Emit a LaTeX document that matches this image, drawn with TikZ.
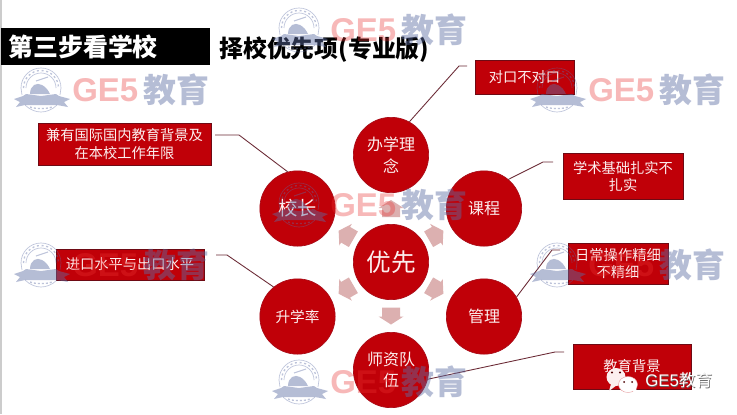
\documentclass[tikz,border=0pt]{standalone}
\usepackage{fontspec}
\setmainfont{Noto Sans CJK SC}
\newfontfamily\latinf{Liberation Sans}
\definecolor{cred}{HTML}{C00008}
\definecolor{cedge}{HTML}{A80C18}
\definecolor{bedge}{HTML}{6E0A14}
\definecolor{arrowc}{HTML}{DCB0B0}
\definecolor{linec}{HTML}{6B2A35}
\definecolor{softw}{HTML}{FCEFEF}
\definecolor{wmblue}{HTML}{5D6DA4}
\definecolor{wmred}{HTML}{EA2F2F}
\tikzset{
  px/.style={x=0.75pt,y=-0.75pt},
  disc/.style={circle,fill=cred,draw=cedge,line width=0.5pt,minimum size=56.5pt,inner sep=0pt,align=center,text=softw,font=\fontsize{12}{16}\selectfont},
  tagbox/.style={rectangle,fill=cred,draw=bedge,line width=0.6pt,inner sep=0pt,align=center,text=softw,font=\fontsize{10.7}{12.9}\selectfont},
  conn/.style={draw=linec,line width=0.65pt},
  flowarrow/.style={fill=arrowc,draw=none},
  wmtxt/.style={anchor=west,inner sep=0pt,font=\bfseries\fontsize{24.7}{25}\selectfont},
}
\newcommand{\boxat}[6]{% name, x0,y0,x1,y1, text
  \node[tagbox,minimum width={(#4-#2)*0.75pt},minimum height={(#5-#3)*0.75pt}] (#1) at ({(#2+#4)/2},{(#3+#5)/2}) {#6};}
\newcommand{\flowarr}[3]{%
  \fill[flowarrow,shift={(#1,#2)},rotate=#3] (-8.5,-9) -- (0.5,-9) -- (0.5,-12.5) -- (8.5,0) -- (0.5,12.5) -- (0.5,9) -- (-8.5,9) -- cycle;}
\newcommand{\wmark}[3]{% id, x of G, y centre
  \begin{scope}[shift={(#2,#3)}]
    \node[wmtxt,text=wmred,text opacity=0.34] (wmg#1) at (0,0) {\latinf GE5};
    \node[wmtxt,text=wmblue,text opacity=0.45] (wmj#1) at (71,0) {教育};
    \begin{scope}[draw=wmblue,fill=wmblue,draw opacity=0.4,fill opacity=0.45,line width=0.5pt]
      \draw (-51,-2) arc[start angle=180,end angle=360,radius=20];
      \draw (-46,-2) arc[start angle=180,end angle=360,radius=15];
      \draw[dash pattern=on 1.5pt off 2pt,line width=1pt] (-48.5,-2) arc[start angle=180,end angle=360,radius=17.5];
      \draw (-51,-2) -- (-50,5) (-11,-2) -- (-12,5);
      % hill and tree
      \fill (-42,4) .. controls (-42,-5) and (-35,-8) .. (-30,-5) .. controls (-26,-3) and (-24,0) .. (-22,4) -- cycle;
      \draw[line width=0.8pt] (-36,-9) -- (-24,-13);
      % ribbon
      \fill (-58,9) -- (-49,6) -- (-46,4) -- (-31,6) -- (-16,4) -- (-13,6) -- (-2,9) -- (-8,12) -- (-4,17) -- (-15,15) -- (-31,15) -- (-47,15) -- (-56,17) -- (-52,12) -- cycle;
      % lower arcs
      \draw (-47,15) .. controls (-42,20) and (-36,22) .. (-31,22) .. controls (-26,22) and (-20,20) .. (-15,15);
      \draw[dash pattern=on 1.5pt off 1.5pt,line width=1pt] (-42,17) .. controls (-38,19) and (-24,19) .. (-20,17);
    \end{scope}
  \end{scope}}
\begin{document}
\begin{tikzpicture}[px]
\useasboundingbox (0,0) rectangle (737,414);
\fill[white] (0,0) rectangle (737,414);
\fill[black!20] (0,0) rectangle (1.5,414);

% header
\node[rectangle,fill=black,minimum width=156.75pt,minimum height=27.75pt,inner sep=0pt] (headbar) at (105.5,46.5) {};
\node[anchor=west,inner sep=0pt,text=white,font=\bfseries\fontsize{18.7}{20}\selectfont] (headtxt) at (8,46.5) {第三步看学校};
\node[anchor=west,inner sep=0pt,text=black,font=\bfseries\fontsize{17.9}{20}\selectfont] (subtitle) at (219,49.5) {择校优先项(专业版)};

% connector ends
\coordinate (e1a) at (459,66);  \coordinate (e1b) at (467,66);
\coordinate (e2a) at (239,135); \coordinate (e2b) at (215,135);
\coordinate (e3a) at (543,162); \coordinate (e3b) at (553,162);
\coordinate (e4a) at (227,255); \coordinate (e4b) at (216,255);
\coordinate (e5a) at (552,250); \coordinate (e5b) at (560,250);
\coordinate (e6a) at (555,352); \coordinate (e6b) at (564,352);

% arrows
\flowarr{391}{208.5}{90}
\flowarr{391}{316}{-90}
\flowarr{346}{235}{150}
\flowarr{436}{235}{30}
\flowarr{346}{289.5}{210}
\flowarr{436}{289.5}{-30}

% circles
\node[disc] (ban) at (391,155) {办学理\\念};
\node[disc] (ke) at (484,208.5) {课程};
\node[disc,font=\fontsize{14.5}{17}\selectfont] (xiao) at (297.5,208.5) {校长};
\node[disc,font=\fontsize{11}{15}\selectfont] (sheng) at (297.5,316.5) {升学率};
\node[disc] (guan) at (484,316.5) {管理};
\node[disc,font=\fontsize{18.5}{20}\selectfont] (you) at (391,262) {优先};
\node[disc] (shi) at (391,370) {师资队\\伍};

% boxes
\boxat{b1}{475}{60}{574}{94.5}{对口不对口}
\boxat{b2}{38}{123}{211}{165}{兼有国际国内教育背景及\\在本校工作年限}
\boxat{b3}{563}{153}{683}{199.5}{学术基础扎实不\\扎实}
\boxat{b4}{56}{249}{204}{280}{进口水平与出口水平}
\boxat{b5}{568}{243}{668}{284}{日常操作精细\\不精细}
\boxat{b6}{573}{344}{691}{389}{教育背景}

% connectors
\draw[conn] (ban.61.5) -- (e1a) -- (e1b);
\draw[conn] (xiao.105.6) -- (e2a) -- (e2b);
\draw[conn] (ke.50.7) -- (e3a) -- (e3b);
\draw[conn] (sheng.129.7) -- (e4a) -- (e4b);
\draw[conn] (guan.31.8) -- (e5a) -- (e5b);
\draw[conn] (shi.-14) -- (e6a) -- (e6b);

% watermarks
\wmark{a}{72}{90}
\wmark{b}{330}{30}
\wmark{c}{588}{90}
\wmark{d}{330}{205}
\wmark{e}{72}{265}
\wmark{f}{588}{265}
\wmark{g}{330}{382}

% wechat mark
\fill[softw] (616,377) ellipse[x radius=9.5,y radius=9];
\fill[softw] (611,384) -- (609,391) -- (617,385) -- cycle;
\fill[white,draw=cred!40,line width=0.3pt] (628,384.5) ellipse[x radius=9.5,y radius=8];
\fill[white] (632,390) -- (637,395) -- (636,387) -- cycle;
\fill[black!70!red] (612,372.5) circle[radius=1.1] (620,372.5) circle[radius=1.1];
\fill[black!70!red] (624,382) circle[radius=1] (632,382) circle[radius=1];
\node[anchor=west,inner sep=0pt,text=black!60,font=\fontsize{12.6}{14}\selectfont] (wxs) at (645.6,380.6) {{\latinf GE5}教育};
\node[anchor=west,inner sep=0pt,text=white,font=\fontsize{12.6}{14}\selectfont] (wxt) at (645,380) {{\latinf GE5}教育};
\end{tikzpicture}
\end{document}
